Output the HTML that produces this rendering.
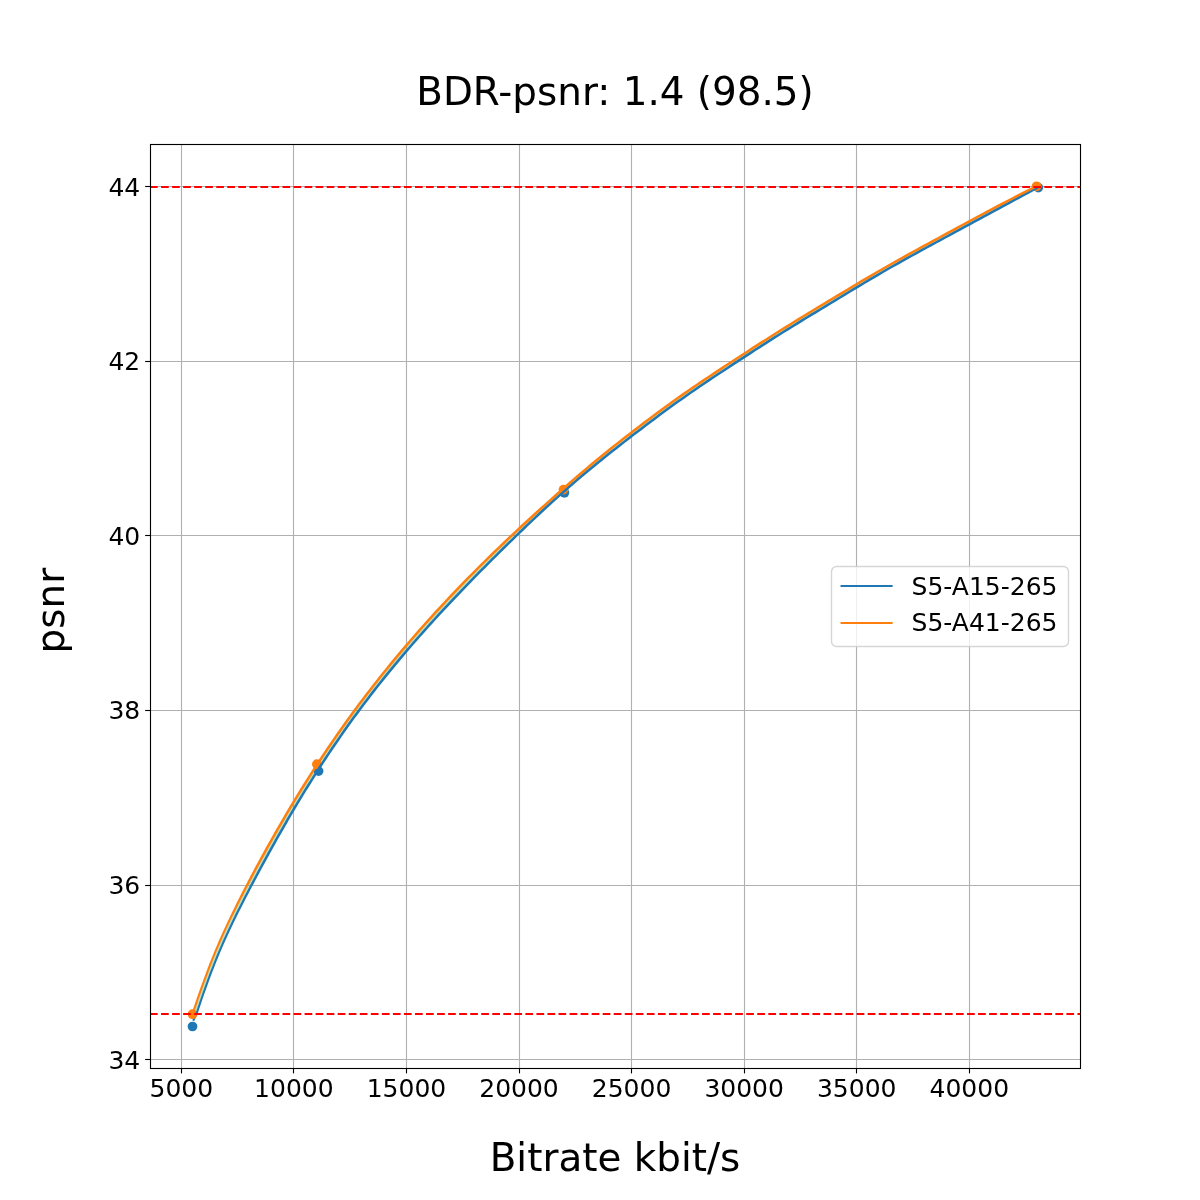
<!DOCTYPE html>
<html lang="en"><head><meta charset="utf-8"><title>BDR-psnr: 1.4 (98.5)</title>
<style>html,body{margin:0;padding:0;background:#fff}svg{display:block;will-change:transform}text{font-family:"DejaVu Sans","Liberation Sans",sans-serif;fill:#000}</style></head><body>
<svg width="1200" height="1200" viewBox="0 0 1200 1200">
<rect width="1200" height="1200" fill="#fff"/>
<g stroke="#b0b0b0" stroke-width="1.11" fill="none">
<path d="M181.5 144V1068"/>
<path d="M293.5 144V1068"/>
<path d="M406.5 144V1068"/>
<path d="M519.5 144V1068"/>
<path d="M631.5 144V1068"/>
<path d="M744.5 144V1068"/>
<path d="M856.5 144V1068"/>
<path d="M969.5 144V1068"/>
<path d="M150 186.5H1080"/>
<path d="M150 361.5H1080"/>
<path d="M150 535.5H1080"/>
<path d="M150 710.5H1080"/>
<path d="M150 885.5H1080"/>
<path d="M150 1059.5H1080"/>
</g>
<g stroke="#000" stroke-width="1.11" fill="none">
<path d="M181.5 1068V1073.4"/>
<path d="M293.5 1068V1073.4"/>
<path d="M406.5 1068V1073.4"/>
<path d="M519.5 1068V1073.4"/>
<path d="M631.5 1068V1073.4"/>
<path d="M744.5 1068V1073.4"/>
<path d="M856.5 1068V1073.4"/>
<path d="M969.5 1068V1073.4"/>
<path d="M150 186.5H145.14"/>
<path d="M150 361.5H145.14"/>
<path d="M150 535.5H145.14"/>
<path d="M150 710.5H145.14"/>
<path d="M150 885.5H145.14"/>
<path d="M150 1059.5H145.14"/>
</g>
<g fill="none" stroke-linejoin="round">
<path d="M192.50 1014.20 L194.26 1008.95 L196.04 1003.70 L197.84 998.45 L199.66 993.21 L201.50 987.97 L203.37 982.75 L205.28 977.53 L207.21 972.33 L209.19 967.14 L211.20 961.97 L213.25 956.82 L215.35 951.69 L217.50 946.59 L219.69 941.50 L221.93 936.44 L224.21 931.40 L226.53 926.38 L228.88 921.38 L231.28 916.39 L233.70 911.42 L236.15 906.46 L238.63 901.51 L241.14 896.58 L243.66 891.65 L246.21 886.74 L248.78 881.83 L251.36 876.92 L253.95 872.03 L256.57 867.14 L259.20 862.26 L261.85 857.39 L264.51 852.53 L267.20 847.68 L269.90 842.83 L272.62 838.00 L275.36 833.17 L278.11 828.36 L280.89 823.55 L283.68 818.76 L286.49 813.97 L289.32 809.20 L292.17 804.44 L295.04 799.69 L297.93 794.95 L300.84 790.22 L303.76 785.51 L306.71 780.81 L309.68 776.12 L312.67 771.45 L315.68 766.79 L318.70 762.14 L321.75 757.51 L324.83 752.89 L327.92 748.28 L331.03 743.70 L334.17 739.12 L337.32 734.57 L340.50 730.02 L343.70 725.50 L346.92 720.99 L350.17 716.50 L353.43 712.02 L356.72 707.56 L360.03 703.12 L363.37 698.70 L366.72 694.29 L370.10 689.90 L373.50 685.53 L376.92 681.17 L380.36 676.83 L383.83 672.51 L387.31 668.21 L390.82 663.92 L394.34 659.64 L397.88 655.39 L401.45 651.15 L405.03 646.92 L408.63 642.71 L412.26 638.52 L415.90 634.35 L419.55 630.19 L423.23 626.04 L426.93 621.91 L430.64 617.80 L434.37 613.70 L438.12 609.62 L441.89 605.55 L445.67 601.50 L449.47 597.46 L453.29 593.44 L457.12 589.43 L460.97 585.44 L464.83 581.46 L468.71 577.50 L472.61 573.55 L476.52 569.61 L480.45 565.69 L484.39 561.79 L488.34 557.90 L492.31 554.02 L496.29 550.16 L500.29 546.31 L504.30 542.47 L508.33 538.65 L512.36 534.84 L516.41 531.05 L520.47 527.27 L524.55 523.50 L528.63 519.74 L532.73 516.00 L536.83 512.26 L540.95 508.54 L545.07 504.83 L549.20 501.13 L553.34 497.44 L557.48 493.76 L561.64 490.10 L565.80 486.44 L569.97 482.80 L574.16 479.17 L578.35 475.56 L582.56 471.96 L586.79 468.38 L591.03 464.82 L595.28 461.28 L599.56 457.76 L603.85 454.26 L608.16 450.78 L612.48 447.32 L616.82 443.88 L621.18 440.45 L625.55 437.04 L629.93 433.64 L634.32 430.26 L638.72 426.89 L643.13 423.54 L647.55 420.20 L651.99 416.88 L656.44 413.58 L660.90 410.29 L665.38 407.02 L669.87 403.77 L674.37 400.55 L678.89 397.34 L683.42 394.15 L687.97 390.98 L692.53 387.84 L697.10 384.71 L701.69 381.61 L706.30 378.52 L710.91 375.45 L715.53 372.39 L720.16 369.35 L724.79 366.31 L729.43 363.27 L734.07 360.24 L738.71 357.22 L743.36 354.20 L748.00 351.18 L752.66 348.17 L757.32 345.17 L761.98 342.17 L766.65 339.19 L771.33 336.22 L776.01 333.26 L780.71 330.31 L785.41 327.38 L790.12 324.46 L794.83 321.55 L799.56 318.65 L804.28 315.76 L809.02 312.87 L813.75 309.99 L818.49 307.12 L823.24 304.25 L827.98 301.39 L832.73 298.53 L837.48 295.67 L842.23 292.81 L846.98 289.96 L851.73 287.11 L856.49 284.27 L861.26 281.44 L866.03 278.62 L870.81 275.81 L875.59 273.02 L880.39 270.24 L885.19 267.48 L890.01 264.74 L894.83 262.01 L899.67 259.30 L904.51 256.61 L909.36 253.93 L914.22 251.26 L919.08 248.59 L923.94 245.94 L928.81 243.29 L933.68 240.64 L938.55 238.00 L943.42 235.35 L948.29 232.71 L953.16 230.06 L958.03 227.41 L962.90 224.77 L967.78 222.13 L972.65 219.49 L977.53 216.86 L982.41 214.24 L987.30 211.63 L992.19 209.02 L997.09 206.43 L1002.00 203.85 L1006.91 201.29 L1011.83 198.74 L1016.77 196.21 L1021.71 193.70 L1026.66 191.21 L1031.62 188.74 L1036.60 186.30 L1038.00 187.30 L1033.13 189.92 L1028.26 192.53 L1023.39 195.16 L1018.53 197.78 L1013.66 200.40 L1008.80 203.03 L1003.93 205.65 L999.07 208.28 L994.21 210.91 L989.34 213.54 L984.48 216.17 L979.62 218.80 L974.76 221.44 L969.90 224.07 L965.03 226.70 L960.17 229.33 L955.31 231.97 L950.45 234.60 L945.59 237.23 L940.72 239.86 L935.86 242.49 L931.00 245.13 L926.14 247.77 L921.29 250.41 L916.44 253.07 L911.60 255.73 L906.76 258.41 L901.93 261.10 L897.11 263.80 L892.30 266.52 L887.50 269.26 L882.71 272.02 L877.93 274.81 L873.17 277.61 L868.41 280.42 L863.66 283.25 L858.92 286.09 L854.18 288.94 L849.45 291.80 L844.71 294.66 L839.98 297.52 L835.25 300.38 L830.52 303.24 L825.79 306.10 L821.06 308.96 L816.33 311.82 L811.60 314.69 L806.87 317.56 L802.15 320.43 L797.44 323.31 L792.73 326.21 L788.02 329.11 L783.33 332.03 L778.64 334.96 L773.97 337.90 L769.30 340.86 L764.64 343.84 L759.99 346.83 L755.35 349.83 L750.71 352.83 L746.08 355.85 L741.45 358.86 L736.82 361.88 L732.19 364.91 L727.56 367.93 L722.94 370.97 L718.33 374.01 L713.72 377.06 L709.12 380.13 L704.53 383.20 L699.95 386.30 L695.39 389.42 L690.84 392.55 L686.31 395.71 L681.79 398.90 L677.29 402.10 L672.80 405.33 L668.33 408.57 L663.87 411.84 L659.42 415.12 L654.98 418.42 L650.56 421.73 L646.14 425.06 L641.74 428.40 L637.34 431.75 L632.95 435.11 L628.57 438.48 L624.19 441.87 L619.83 445.26 L615.47 448.67 L611.13 452.09 L606.80 455.53 L602.48 458.99 L598.18 462.46 L593.90 465.96 L589.64 469.47 L585.39 473.01 L581.16 476.56 L576.95 480.14 L572.75 483.73 L568.58 487.35 L564.42 490.99 L560.28 494.65 L556.16 498.33 L552.06 502.03 L547.98 505.76 L543.91 509.51 L539.86 513.27 L535.83 517.05 L531.81 520.85 L527.80 524.67 L523.80 528.49 L519.81 532.33 L515.84 536.17 L511.86 540.03 L507.90 543.89 L503.94 547.76 L500.00 551.65 L496.06 555.54 L492.13 559.44 L488.21 563.35 L484.30 567.27 L480.41 571.20 L476.52 575.14 L472.65 579.09 L468.78 583.06 L464.93 587.03 L461.10 591.02 L457.27 595.02 L453.46 599.03 L449.66 603.05 L445.88 607.09 L442.11 611.14 L438.36 615.20 L434.62 619.28 L430.90 623.37 L427.20 627.47 L423.51 631.59 L419.84 635.72 L416.19 639.87 L412.55 644.03 L408.94 648.21 L405.34 652.40 L401.76 656.61 L398.21 660.84 L394.67 665.08 L391.15 669.34 L387.66 673.62 L384.18 677.91 L380.73 682.22 L377.30 686.55 L373.89 690.89 L370.51 695.25 L367.15 699.64 L363.81 704.04 L360.50 708.46 L357.21 712.90 L353.95 717.35 L350.71 721.83 L347.49 726.33 L344.30 730.84 L341.14 735.37 L337.99 739.92 L334.87 744.48 L331.77 749.06 L328.70 753.66 L325.64 758.27 L322.61 762.90 L319.60 767.54 L316.61 772.20 L313.64 776.87 L310.69 781.55 L307.77 786.25 L304.86 790.96 L301.97 795.68 L299.10 800.42 L296.25 805.17 L293.42 809.92 L290.60 814.69 L287.81 819.47 L285.03 824.26 L282.27 829.06 L279.53 833.87 L276.80 838.69 L274.09 843.52 L271.40 848.35 L268.72 853.19 L266.06 858.04 L263.41 862.90 L260.78 867.76 L258.16 872.63 L255.56 877.51 L252.97 882.39 L250.40 887.27 L247.84 892.17 L245.30 897.07 L242.77 901.97 L240.27 906.89 L237.80 911.82 L235.35 916.76 L232.94 921.72 L230.56 926.69 L228.21 931.69 L225.91 936.70 L223.64 941.74 L221.43 946.79 L219.25 951.88 L217.13 956.98 L215.06 962.11 L213.02 967.26 L211.03 972.43 L209.09 977.62 L207.17 982.82 L205.30 988.03 L203.46 993.25 L201.65 998.48 L199.87 1003.72 L198.12 1008.96 L196.40 1014.20Z" fill="#2ca02c" fill-opacity="0.32" stroke="none"/>
<g fill="#1f77b4"><circle cx="192.5" cy="1026.5" r="4.86"/><circle cx="318.6" cy="771.1" r="4.86"/><circle cx="564.4" cy="492.8" r="4.86"/><circle cx="1038.3" cy="187.6" r="4.86"/></g>
<path d="M196.56 1013.70 L193.64 1019.80" stroke="#1f77b4" stroke-width="2.08" stroke-linecap="square"/>
<g fill="#ff7f0e"><circle cx="192.5" cy="1014.2" r="4.86"/><circle cx="316.9" cy="764.2" r="4.86"/><circle cx="563.5" cy="489.6" r="4.86"/><circle cx="1036.6" cy="186.3" r="4.86"/></g>
<path d="M197.07 1015.53 L199.12 1009.29 L200.87 1004.06 L202.64 998.82 L204.45 993.60 L206.29 988.38 L208.16 983.18 L210.07 977.99 L212.02 972.81 L214.00 967.65 L216.03 962.50 L218.10 957.38 L220.22 952.28 L222.39 947.21 L224.60 942.16 L226.86 937.14 L229.16 932.13 L231.51 927.15 L233.90 922.19 L236.33 917.24 L238.79 912.31 L241.27 907.39 L243.78 902.49 L246.31 897.59 L248.87 892.70 L251.44 887.82 L254.02 882.94 L256.62 878.07 L259.23 873.21 L261.86 868.35 L264.50 863.49 L267.16 858.64 L269.82 853.80 L272.49 848.96 L275.18 844.13 L277.89 839.30 L280.61 834.49 L283.36 829.68 L286.11 824.89 L288.89 820.10 L291.68 815.33 L294.49 810.56 L297.32 805.81 L300.17 801.07 L303.04 796.33 L305.92 791.62 L308.83 786.91 L311.75 782.22 L314.70 777.54 L317.67 772.87 L320.65 768.22 L323.66 763.58 L326.69 758.96 L329.74 754.35 L332.81 749.76 L335.91 745.18 L339.02 740.63 L342.16 736.08 L345.33 731.56 L348.51 727.05 L351.72 722.56 L354.96 718.09 L358.22 713.64 L361.50 709.20 L364.81 704.79 L368.14 700.39 L371.50 696.02 L374.88 691.66 L378.28 687.32 L381.71 683.00 L385.16 678.69 L388.63 674.40 L392.12 670.13 L395.63 665.88 L399.17 661.64 L402.72 657.42 L406.29 653.22 L409.89 649.03 L413.50 644.85 L417.13 640.69 L420.78 636.55 L424.44 632.42 L428.13 628.31 L431.83 624.21 L435.55 620.12 L439.28 616.05 L443.03 611.99 L446.79 607.94 L450.57 603.91 L454.37 599.89 L458.18 595.88 L462.00 591.88 L465.83 587.90 L469.68 583.93 L473.54 579.97 L477.41 576.02 L481.30 572.08 L485.19 568.15 L489.10 564.23 L493.01 560.32 L496.94 556.42 L500.88 552.54 L504.82 548.66 L508.77 544.79 L512.74 540.92 L516.71 537.07 L520.68 533.23 L524.67 529.39 L528.66 525.57 L532.67 521.76 L536.68 517.96 L540.71 514.19 L544.76 510.42 L548.82 506.68 L552.90 502.96 L557.00 499.26 L561.11 495.58 L565.25 491.93 L569.40 488.29 L573.57 484.68 L577.76 481.09 L581.97 477.52 L586.19 473.96 L590.43 470.43 L594.69 466.92 L598.97 463.43 L603.27 459.96 L607.58 456.51 L611.90 453.07 L616.24 449.65 L620.59 446.25 L624.96 442.86 L629.33 439.47 L633.71 436.10 L638.10 432.74 L642.49 429.39 L646.90 426.05 L651.31 422.73 L655.73 419.42 L660.16 416.12 L664.61 412.85 L669.06 409.58 L673.53 406.34 L678.01 403.12 L682.51 399.92 L687.02 396.74 L691.55 393.58 L696.09 390.45 L700.65 387.34 L705.23 384.24 L709.81 381.16 L714.41 378.10 L719.02 375.05 L723.63 372.01 L728.25 368.98 L732.87 365.95 L737.50 362.93 L742.13 359.91 L746.76 356.89 L751.39 353.88 L756.03 350.87 L760.67 347.88 L765.32 344.89 L769.97 341.92 L774.63 338.96 L779.31 336.02 L783.99 333.09 L788.68 330.17 L793.38 327.27 L798.09 324.38 L802.80 321.50 L807.52 318.62 L812.25 315.75 L816.98 312.89 L821.71 310.03 L826.44 307.17 L831.17 304.31 L835.90 301.45 L840.63 298.59 L845.36 295.73 L850.09 292.87 L854.82 290.01 L859.56 287.16 L864.30 284.32 L869.05 281.50 L873.80 278.68 L878.56 275.88 L883.34 273.11 L888.12 270.35 L892.91 267.61 L897.72 264.89 L902.54 262.19 L907.36 259.50 L912.20 256.83 L917.04 254.16 L921.89 251.51 L926.74 248.87 L931.60 246.23 L936.46 243.59 L941.32 240.96 L946.18 238.33 L951.04 235.70 L955.91 233.07 L960.77 230.43 L965.63 227.80 L970.49 225.17 L975.35 222.54 L980.21 219.90 L985.08 217.27 L989.94 214.64 L994.80 212.01 L999.66 209.38 L1004.53 206.75 L1009.39 204.13 L1014.26 201.50 L1019.12 198.88 L1023.99 196.26 L1028.85 193.64 L1033.72 191.02 L1038.59 188.40 L1037.41 186.20 L1032.54 188.82 L1027.67 191.43 L1022.80 194.05 L1017.93 196.68 L1013.07 199.30 L1008.20 201.93 L1003.34 204.55 L998.47 207.18 L993.61 209.81 L988.75 212.44 L983.89 215.07 L979.02 217.70 L974.16 220.34 L969.30 222.97 L964.44 225.60 L959.58 228.23 L954.72 230.87 L949.85 233.50 L944.99 236.13 L940.13 238.76 L935.27 241.39 L930.40 244.03 L925.55 246.67 L920.69 249.32 L915.84 251.97 L910.99 254.64 L906.15 257.31 L901.32 260.01 L896.49 262.71 L891.68 265.44 L886.87 268.18 L882.08 270.94 L877.30 273.73 L872.53 276.53 L867.77 279.35 L863.02 282.18 L858.27 285.02 L853.53 287.87 L848.80 290.73 L844.07 293.59 L839.34 296.45 L834.61 299.31 L829.88 302.17 L825.14 305.03 L820.41 307.89 L815.68 310.75 L810.95 313.62 L806.22 316.49 L801.50 319.36 L796.78 322.25 L792.07 325.14 L787.37 328.05 L782.67 330.97 L777.98 333.90 L773.30 336.85 L768.63 339.81 L763.97 342.79 L759.32 345.78 L754.67 348.78 L750.03 351.78 L745.40 354.80 L740.76 357.82 L736.13 360.84 L731.50 363.86 L726.88 366.89 L722.26 369.92 L717.64 372.97 L713.03 376.02 L708.42 379.09 L703.83 382.17 L699.25 385.27 L694.68 388.39 L690.13 391.53 L685.59 394.69 L681.07 397.88 L676.56 401.09 L672.07 404.32 L667.59 407.56 L663.13 410.83 L658.68 414.12 L654.24 417.42 L649.81 420.73 L645.39 424.06 L640.98 427.40 L636.58 430.76 L632.19 434.12 L627.80 437.49 L623.43 440.88 L619.06 444.28 L614.70 447.69 L610.35 451.11 L606.02 454.55 L601.70 458.01 L597.39 461.49 L593.11 464.99 L588.84 468.51 L584.59 472.05 L580.35 475.61 L576.14 479.18 L571.94 482.79 L567.76 486.41 L563.59 490.05 L559.45 493.71 L555.32 497.40 L551.22 501.11 L547.13 504.84 L543.06 508.59 L539.01 512.36 L534.97 516.14 L530.95 519.95 L526.94 523.76 L522.94 527.59 L518.95 531.43 L514.97 535.28 L510.99 539.13 L507.03 543.00 L503.07 546.87 L499.12 550.76 L495.18 554.65 L491.25 558.55 L487.33 562.46 L483.42 566.39 L479.52 570.32 L475.63 574.26 L471.75 578.22 L467.89 582.18 L464.03 586.16 L460.19 590.15 L456.37 594.15 L452.55 598.17 L448.75 602.20 L444.97 606.24 L441.20 610.29 L437.44 614.35 L433.70 618.43 L429.98 622.53 L426.27 626.63 L422.58 630.76 L418.90 634.89 L415.25 639.05 L411.61 643.21 L407.99 647.39 L404.39 651.59 L400.81 655.81 L397.25 660.04 L393.71 664.28 L390.19 668.55 L386.69 672.83 L383.21 677.12 L379.75 681.44 L376.32 685.77 L372.91 690.12 L369.52 694.49 L366.15 698.88 L362.81 703.29 L359.50 707.71 L356.20 712.16 L352.94 716.62 L349.69 721.10 L346.48 725.60 L343.28 730.12 L340.11 734.66 L336.96 739.21 L333.84 743.78 L330.74 748.36 L327.66 752.97 L324.60 757.58 L321.56 762.22 L318.55 766.86 L315.56 771.52 L312.59 776.20 L309.64 780.89 L306.70 785.59 L303.79 790.31 L300.90 795.03 L298.03 799.77 L295.18 804.52 L292.34 809.29 L289.53 814.06 L286.73 818.84 L283.95 823.64 L281.19 828.44 L278.44 833.25 L275.71 838.08 L273.00 842.91 L270.31 847.74 L267.63 852.59 L264.96 857.44 L262.32 862.31 L259.70 867.18 L257.09 872.06 L254.50 876.94 L251.92 881.83 L249.36 886.73 L246.81 891.63 L244.28 896.54 L241.77 901.46 L239.28 906.39 L236.81 911.33 L234.38 916.28 L231.97 921.25 L229.60 926.24 L227.26 931.25 L224.95 936.27 L222.68 941.31 L220.46 946.38 L218.29 951.47 L216.16 956.58 L214.08 961.72 L212.05 966.88 L210.05 972.06 L208.10 977.25 L206.19 982.46 L204.31 987.68 L202.47 992.91 L200.66 998.14 L198.88 1003.39 L197.13 1008.63 L195.07 1014.87Z" fill="#1f77b4" stroke="none"/>
<path d="M193.16 1015.53 L195.26 1009.28 L197.03 1004.04 L198.83 998.79 L200.65 993.56 L202.49 988.33 L204.36 983.10 L206.26 977.89 L208.20 972.70 L210.17 967.52 L212.17 962.36 L214.22 957.22 L216.32 952.09 L218.46 947.00 L220.65 941.92 L222.89 936.87 L225.16 931.84 L227.49 926.83 L229.85 921.84 L232.26 916.86 L234.69 911.90 L237.15 906.96 L239.64 902.02 L242.16 897.10 L244.70 892.18 L247.25 887.28 L249.83 882.38 L252.42 877.49 L255.03 872.60 L257.65 867.72 L260.29 862.86 L262.94 857.99 L265.61 853.13 L268.29 848.28 L270.99 843.44 L273.71 838.61 L276.44 833.79 L279.19 828.98 L281.97 824.18 L284.76 819.39 L287.57 814.61 L290.39 809.84 L293.24 805.08 L296.11 800.34 L298.99 795.60 L301.90 790.88 L304.82 786.17 L307.77 781.48 L310.73 776.79 L313.72 772.12 L316.72 767.47 L319.75 762.82 L322.80 758.20 L325.87 753.58 L328.95 748.98 L332.06 744.40 L335.20 739.83 L338.35 735.28 L341.52 730.74 L344.72 726.22 L347.94 721.72 L351.18 717.23 L354.44 712.76 L357.73 708.31 L361.03 703.87 L364.36 699.45 L367.72 695.05 L371.09 690.67 L374.49 686.30 L377.90 681.95 L381.34 677.61 L384.80 673.29 L388.28 668.99 L391.78 664.71 L395.30 660.44 L398.84 656.19 L402.40 651.95 L405.98 647.73 L409.58 643.53 L413.20 639.34 L416.84 635.17 L420.49 631.01 L424.17 626.87 L427.86 622.75 L431.57 618.64 L435.30 614.54 L439.04 610.46 L442.80 606.40 L446.58 602.35 L450.38 598.32 L454.19 594.30 L458.02 590.30 L461.87 586.31 L465.73 582.33 L469.61 578.37 L473.50 574.43 L477.40 570.50 L481.33 566.58 L485.26 562.68 L489.22 558.79 L493.18 554.92 L497.16 551.06 L501.16 547.21 L505.16 543.38 L509.18 539.56 L513.22 535.75 L517.27 531.96 L521.33 528.18 L525.40 524.42 L529.48 520.66 L533.57 516.92 L537.67 513.19 L541.78 509.47 L545.91 505.76 L550.03 502.06 L554.17 498.38 L558.31 494.70 L562.46 491.03 L566.62 487.38 L570.79 483.74 L574.97 480.11 L579.17 476.50 L583.37 472.91 L587.59 469.34 L591.83 465.78 L596.08 462.24 L600.35 458.72 L604.64 455.23 L608.94 451.75 L613.26 448.30 L617.60 444.86 L621.95 441.44 L626.31 438.03 L630.69 434.63 L635.08 431.25 L639.47 427.89 L643.88 424.54 L648.30 421.20 L652.74 417.89 L657.18 414.58 L661.64 411.30 L666.11 408.04 L670.60 404.79 L675.10 401.56 L679.61 398.36 L684.14 395.17 L688.68 392.01 L693.23 388.87 L697.81 385.75 L702.39 382.65 L706.99 379.56 L711.60 376.49 L716.22 373.44 L720.84 370.39 L725.47 367.35 L730.11 364.32 L734.75 361.29 L739.39 358.27 L744.04 355.24 L748.68 352.23 L753.34 349.22 L757.99 346.22 L762.65 343.23 L767.32 340.24 L772.00 337.27 L776.68 334.32 L781.37 331.37 L786.07 328.44 L790.78 325.52 L795.49 322.61 L800.21 319.71 L804.93 316.82 L809.67 313.94 L814.40 311.06 L819.14 308.19 L823.88 305.32 L828.63 302.46 L833.37 299.60 L838.12 296.74 L842.87 293.88 L847.62 291.03 L852.38 288.18 L857.13 285.34 L861.90 282.51 L866.66 279.70 L871.44 276.89 L876.22 274.10 L881.01 271.32 L885.81 268.56 L890.62 265.82 L895.45 263.10 L900.28 260.40 L905.12 257.70 L909.96 255.02 L914.82 252.35 L919.68 249.69 L924.54 247.04 L929.41 244.39 L934.27 241.74 L939.15 239.10 L944.02 236.45 L948.89 233.81 L953.76 231.16 L958.63 228.51 L963.50 225.87 L968.37 223.23 L973.25 220.59 L978.12 217.96 L983.00 215.34 L987.89 212.73 L992.78 210.13 L997.68 207.54 L1002.58 204.96 L1007.49 202.40 L1012.41 199.85 L1017.33 197.33 L1022.27 194.82 L1027.22 192.33 L1032.18 189.87 L1038.27 186.87 L1037.17 184.63 L1031.07 187.62 L1026.10 190.10 L1021.14 192.59 L1016.20 195.10 L1011.26 197.63 L1006.34 200.18 L1001.42 202.75 L996.51 205.33 L991.61 207.92 L986.71 210.52 L981.82 213.14 L976.94 215.76 L972.06 218.39 L967.18 221.03 L962.31 223.67 L957.44 226.32 L952.56 228.96 L947.69 231.61 L942.82 234.25 L937.95 236.90 L933.08 239.54 L928.21 242.19 L923.34 244.84 L918.48 247.50 L913.61 250.16 L908.76 252.83 L903.90 255.52 L899.06 258.21 L894.22 260.92 L889.39 263.65 L884.57 266.39 L879.76 269.16 L874.96 271.94 L870.18 274.73 L865.39 277.54 L860.62 280.36 L855.85 283.20 L851.09 286.04 L846.34 288.89 L841.58 291.74 L836.83 294.60 L832.08 297.46 L827.34 300.32 L822.59 303.18 L817.85 306.05 L813.10 308.92 L808.37 311.80 L803.63 314.69 L798.90 317.58 L794.18 320.48 L789.46 323.40 L784.75 326.32 L780.04 329.25 L775.35 332.20 L770.66 335.16 L765.98 338.14 L761.30 341.12 L756.64 344.11 L751.98 347.12 L747.32 350.13 L742.67 353.15 L738.03 356.17 L733.39 359.20 L728.74 362.23 L724.10 365.26 L719.47 368.30 L714.84 371.35 L710.22 374.41 L705.60 377.48 L701.00 380.57 L696.40 383.68 L691.82 386.81 L687.25 389.95 L682.70 393.12 L678.16 396.32 L673.64 399.53 L669.14 402.76 L664.64 406.01 L660.16 409.28 L655.70 412.57 L651.24 415.88 L646.80 419.20 L642.37 422.54 L637.96 425.90 L633.55 429.27 L629.16 432.66 L624.78 436.05 L620.41 439.47 L616.05 442.90 L611.71 446.34 L607.38 449.81 L603.06 453.29 L598.76 456.79 L594.49 460.32 L590.23 463.86 L585.98 467.42 L581.75 471.01 L577.54 474.61 L573.34 478.22 L569.15 481.85 L564.98 485.50 L560.81 489.16 L556.65 492.83 L552.51 496.51 L548.37 500.20 L544.23 503.90 L540.11 507.61 L535.99 511.34 L531.89 515.07 L527.79 518.82 L523.70 522.58 L519.62 526.35 L515.56 530.13 L511.51 533.93 L507.47 537.74 L503.44 541.57 L499.43 545.41 L495.43 549.26 L491.44 553.12 L487.47 557.00 L483.51 560.90 L479.56 564.81 L475.64 568.73 L471.72 572.67 L467.82 576.62 L463.94 580.59 L460.07 584.57 L456.22 588.56 L452.38 592.58 L448.56 596.60 L444.76 600.64 L440.97 604.70 L437.20 608.77 L433.45 612.86 L429.72 616.96 L426.00 621.08 L422.30 625.21 L418.62 629.36 L414.96 633.52 L411.31 637.70 L407.69 641.90 L404.08 646.11 L400.49 650.34 L396.92 654.58 L393.38 658.85 L389.85 663.12 L386.34 667.42 L382.85 671.73 L379.39 676.05 L375.94 680.40 L372.52 684.76 L369.11 689.14 L365.73 693.53 L362.37 697.94 L359.03 702.37 L355.72 706.82 L352.43 711.28 L349.15 715.76 L345.91 720.26 L342.68 724.77 L339.48 729.30 L336.30 733.85 L333.14 738.41 L330.00 742.99 L326.88 747.59 L323.79 752.19 L320.71 756.82 L317.66 761.45 L314.63 766.11 L311.62 770.77 L308.62 775.45 L305.65 780.14 L302.70 784.85 L299.77 789.57 L296.86 794.30 L293.97 799.04 L291.10 803.79 L288.25 808.56 L285.41 813.34 L282.60 818.13 L279.80 822.92 L277.03 827.73 L274.27 832.55 L271.53 837.38 L268.81 842.22 L266.10 847.07 L263.42 851.93 L260.75 856.79 L258.10 861.67 L255.48 866.56 L252.88 871.46 L250.29 876.36 L247.72 881.27 L245.17 886.19 L242.63 891.12 L240.12 896.06 L237.62 901.00 L235.15 905.96 L232.71 910.93 L230.30 915.91 L227.91 920.91 L225.57 925.93 L223.25 930.96 L220.97 936.01 L218.73 941.08 L216.53 946.17 L214.38 951.29 L212.28 956.43 L210.22 961.59 L208.21 966.77 L206.23 971.96 L204.29 977.17 L202.39 982.39 L200.51 987.62 L198.67 992.86 L196.85 998.11 L195.05 1003.36 L193.27 1008.61 L191.17 1014.86Z" fill="#ff7f0e" stroke="none"/>
<g stroke="#ff0000" stroke-width="2.08" stroke-dasharray="7.708 3.333">
<path d="M150 1014H1080"/><path d="M150 187H1080"/></g>
</g>
<rect x="150.5" y="144.5" width="930" height="924" fill="none" stroke="#000" stroke-width="1.11"/>
<rect x="831.5" y="566.5" width="237" height="80" rx="5" ry="5" fill="#fff" fill-opacity="0.8" stroke="#ccc" stroke-opacity="0.8" stroke-width="1.39"/>
<path d="M841.6 586H891.6" stroke="#1f77b4" stroke-width="2.08" stroke-linecap="square"/>
<path d="M841.6 623H891.6" stroke="#ff7f0e" stroke-width="2.08" stroke-linecap="square"/>
<g font-size="25">
<text x="911.6" y="594.55">S5-A15-265</text>
<text x="911.6" y="631.25">S5-A41-265</text>
</g>
<g font-size="25" text-anchor="middle">
<text x="181.30" y="1096.72">5000</text>
<text x="293.87" y="1096.72">10000</text>
<text x="406.44" y="1096.72">15000</text>
<text x="519.01" y="1096.72">20000</text>
<text x="631.58" y="1096.72">25000</text>
<text x="744.15" y="1096.72">30000</text>
<text x="856.72" y="1096.72">35000</text>
<text x="969.29" y="1096.72">40000</text>
</g>
<g font-size="25" text-anchor="end">
<text x="140.28" y="196">44</text>
<text x="140.28" y="370">42</text>
<text x="140.28" y="545">40</text>
<text x="140.28" y="719">38</text>
<text x="140.28" y="894">36</text>
<text x="140.28" y="1069">34</text>
</g>
<g font-size="38.889" text-anchor="middle">
<text x="615" y="105.11">BDR-psnr: 1.4 (98.5)</text>
<text x="615" y="1171.4">Bitrate kbit/s</text>
<text transform="translate(64.4 610.6) rotate(-90)">psnr</text>
</g>
</svg></body></html>
